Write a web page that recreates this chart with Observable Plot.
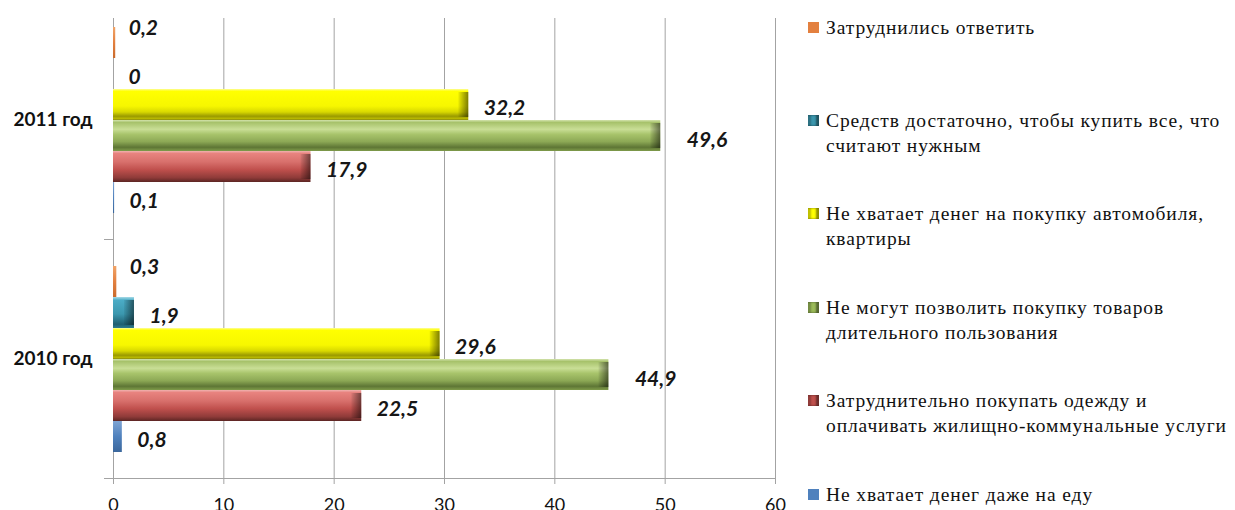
<!DOCTYPE html>
<html>
<head>
<meta charset="utf-8">
<script src="https://cdn.jsdelivr.net/npm/d3@7"></script>
<script src="https://cdn.jsdelivr.net/npm/@observablehq/plot@0.6"></script>
<style>
  html, body { margin: 0; padding: 0; background: #fff; overflow: hidden; }
  #wrap { position: relative; width: 1235px; height: 510px; }
  #legend { position: absolute; left: 0; top: 0; width: 1235px; height: 510px; font-family: "Liberation Serif", "Times New Roman", serif; font-size: 19.5px; letter-spacing: 0.9px; color: #111; }
  .item { position: absolute; left: 808px; white-space: pre; line-height: 25px; padding-left: 18px; }
  .swatch { position: absolute; left: 0; top: 7px; width: 11px; height: 11px; }
</style>
</head>
<body>
<div id="wrap"><div id="chart"></div><div id="legend"></div></div>
<script>
// Survey groups, top to bottom
const years = ["2011 год", "2010 год"];

// Answer options, top to bottom within each group
const series = [
  "Затруднились ответить",
  "Средств достаточно, чтобы купить все, что\nсчитают нужным",
  "Не хватает денег на покупку автомобиля,\nквартиры",
  "Не могут позволить покупку товаров\nдлительного пользования",
  "Затруднительно покупать одежду и\nоплачивать жилищно-коммунальные услуги",
  "Не хватает денег даже на еду"
];

// Shares, %, in the order of `series`
const values2011 = [0.2, 0, 32.2, 49.6, 17.9, 0.1];
const values2010 = [0.3, 1.9, 29.6, 44.9, 22.5, 0.8];

const xTicks = [0, 10, 20, 30, 40, 50, 60];

// Base colours per series
const colors = ["#e3803f", "#3b97ae", "#ffff00", "#9bbb59", "#c0504d", "#4f81bd"];

// Vertical shading for the bevelled bars
const shading = [
  [[0, "#f0a468"], [0.5, "#e3803f"], [1, "#c96a2c"]],
  [[0, "#a8dbe8"], [0.1, "#4bacc6"], [0.55, "#3b97ae"], [0.88, "#1f5f70"], [1, "#2f7a8e"]],
  [[0, "#fdfd9c"], [0.07, "#ffff00"], [0.55, "#f7f700"], [0.74, "#d9d900"], [0.88, "#9a9a00"], [0.95, "#b8b800"], [1, "#8b8b10"]],
  [[0, "#d3e3ad"], [0.08, "#a7c26b"], [0.3, "#c9de96"], [0.46, "#a8c46b"], [0.7, "#8ca855"], [0.88, "#5e7635"], [1, "#7f9b4a"]],
  [[0, "#f0b2b0"], [0.08, "#e8837f"], [0.35, "#d8706c"], [0.6, "#c0504d"], [0.86, "#8f3b39"], [1, "#5c2523"]],
  [[0, "#7fa4d3"], [0.5, "#4f81bd"], [1, "#3b679c"]]
];

const valuesByYear = [values2011, values2010];
const rows = years.flatMap((year, yi) =>
  series.map((s, si) => ({year, series: s, si, value: valuesByYear[yi][si]}))
);

const fmt = v => String(v).replace(".", ",");
const gridColor = "#a3a3a3";

// Label nudges per series: orange labels sit above their hairline bars
const labelOffset = si => si === 0 ? {dx: 13, dy: -15} : si === 3 ? {dx: 26, dy: 4} : {dx: 15, dy: 3};

const chart = Plot.plot({
  width: 1235,
  height: 510,
  marginLeft: 113,
  marginRight: 460,
  marginTop: 0,
  marginBottom: 32,
  style: {background: "white", color: "#111", fontFamily: "Lato, sans-serif", overflow: "visible"},
  x: {domain: [0, 60]},
  y: {domain: series, axis: null, paddingInner: 0, paddingOuter: 0.83},
  fy: {domain: years, axis: null, padding: 0},
  marks: [
    // vertical gridlines (the 0 line doubles as the category axis)
    Plot.ruleX(xTicks, {x: d => d, fy: () => years[0], insetTop: 18, stroke: gridColor}),
    Plot.ruleX(xTicks, {x: d => d, fy: () => years[1], stroke: gridColor}),
    // bars
    ...series.map((s, si) => Plot.barX(rows.filter(d => d.si === si), {
      x: "value", y: "series", fy: "year", fill: `url(#bar-${si})`
    })),
    // darker bevel at the right end of the wider bars
    ...[1, 2, 3, 4].map(si => Plot.barX(rows.filter(d => d.si === si && d.value > 1), {
      x1: "value", x2: "value", y: "series", fy: "year",
      insetLeft: -10, insetTop: 3, insetBottom: 3, fill: "url(#bar-cap)"
    })),
    // value labels
    ...series.map((s, si) => Plot.text(rows.filter(d => d.si === si), {
      x: "value", y: "series", fy: "year", text: d => fmt(d.value),
      textAnchor: "start", ...labelOffset(si),
      fontSize: 21, fontWeight: "bold", fontStyle: "italic", fill: "#161616",
      style: "letter-spacing: 0.4px"
    })),
    // group labels
    Plot.text(years, {
      fy: d => d, text: d => d, frameAnchor: "left", textAnchor: "end", dx: -21,
      fontSize: 19, fontWeight: "bold", fill: "#111"
    }),
    Plot.axisX({ticks: xTicks, tickFormat: d => d, tickSize: 6, tickPadding: 14, fontSize: 18, stroke: gridColor, label: null})
  ]
});

document.getElementById("chart").append(chart);

// gradient definitions for the bars
const svg = d3.select(chart.tagName === "svg" ? chart : chart.querySelector("svg"));
const defs = svg.insert("defs", ":first-child");
shading.forEach((stops, si) => {
  const g = defs.append("linearGradient").attr("id", `bar-${si}`)
    .attr("x1", 0).attr("y1", 0).attr("x2", 0).attr("y2", 1);
  stops.forEach(([o, c]) => g.append("stop").attr("offset", o).attr("stop-color", c));
});
const cap = defs.append("linearGradient").attr("id", "bar-cap").attr("x1", 0).attr("x2", 1).attr("y1", 0).attr("y2", 0);
cap.append("stop").attr("offset", 0).attr("stop-color", "#000").attr("stop-opacity", 0.05);
cap.append("stop").attr("offset", 1).attr("stop-color", "#000").attr("stop-opacity", 0.5);

// value axis baseline and the tick between the two groups
const xs = chart.scale("x"), fys = chart.scale("fy");
const x0 = xs.apply(0), xEnd = xs.apply(60);
const yBetween = fys.apply(years[1]);
const yBottom = yBetween + fys.bandwidth;
svg.append("line").attr("x1", x0 - 9).attr("x2", xEnd).attr("y1", yBottom + 0.5).attr("y2", yBottom + 0.5).attr("stroke", gridColor);
svg.append("line").attr("x1", x0 - 9).attr("x2", x0).attr("y1", yBetween + 0.5).attr("y2", yBetween + 0.5).attr("stroke", gridColor);

// legend
const legend = document.getElementById("legend");
series.forEach((s, si) => {
  const item = document.createElement("div");
  item.className = "item";
  item.style.top = (14.5 + si * 93.4) + "px";
  item.textContent = s;
  const sw = document.createElement("span");
  sw.className = "swatch";
  sw.style.background = colors[si];
  if (si >= 1 && si <= 4) sw.style.boxShadow = "inset -3px 0 2px rgba(0,0,0,0.45), inset 3px 0 2px rgba(0,0,0,0.25)";
  item.prepend(sw);
  legend.append(item);
});
</script>
</body>
</html>
